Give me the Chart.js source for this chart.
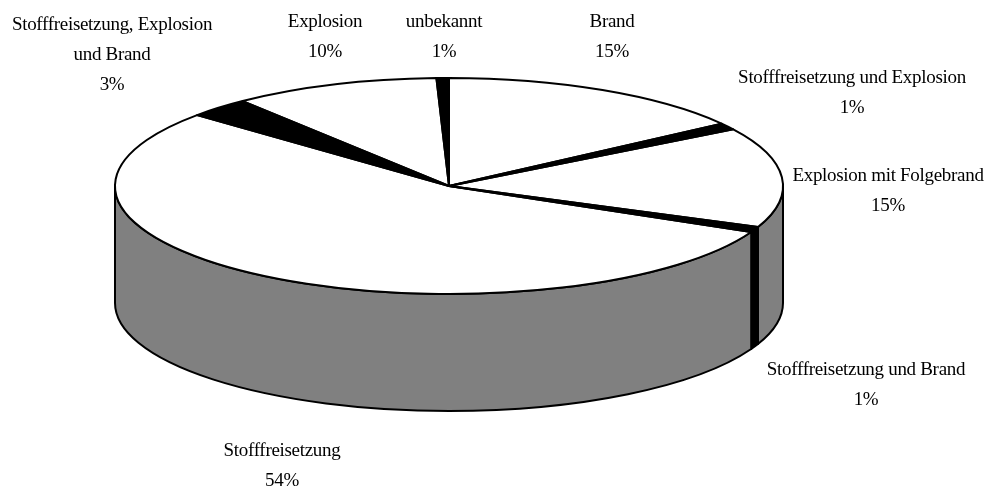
<!DOCTYPE html>
<html>
<head>
<meta charset="utf-8">
<script src="https://cdn.jsdelivr.net/npm/chart.js@4"></script>
<style>
  html, body { margin: 0; padding: 0; background: #fff; }
  #wrap { width: 992px; height: 492px; }
</style>
</head>
<body>
<div id="wrap"><canvas id="chart_pie"></canvas></div>
<script>
// data
const categories = [
  'Brand',
  'Stofffreisetzung und Explosion',
  'Explosion mit Folgebrand',
  'Stofffreisetzung und Brand',
  'Stofffreisetzung',
  ['Stofffreisetzung, Explosion', 'und Brand'],
  'Explosion',
  'unbekannt'
];
// shares (labels show them rounded)
const shares = [15.2, 1.0, 15.0, 0.8, 54.4, 3.0, 10.0, 0.6];

// styles / layout
const sliceColors = ['#ffffff','#000000','#ffffff','#000000','#ffffff','#000000','#ffffff','#000000'];
const wallColors  = ['#808080','#000000','#808080','#000000','#808080','#000000','#808080','#000000'];
const labelPos = [[612,22],[852,78],[888,176],[866,370],[282,451],[112,25],[325,22],[444,22]];
const CX = 449, CY = 186, RX = 334, RY = 108, DEPTH = 117;

function tilt(ctx, el) {
  // squash the library's circle into the tilted ellipse
  ctx.translate(CX, CY);
  ctx.scale(RX / el.outerRadius, RY / el.outerRadius);
  ctx.translate(-el.x, -el.y);
}

const pie3d = {
  id: 'pie3d',
  beforeDatasetsDraw(chart) {
    const ctx = chart.ctx;
    const arcs = chart.getDatasetMeta(0).data;
    // side wall, only the front half is visible
    arcs.forEach((el, i) => {
      const a1 = Math.max(el.startAngle, 0);
      const a2 = Math.min(el.endAngle, Math.PI);
      if (a2 <= a1) return;
      ctx.save();
      ctx.beginPath();
      ctx.ellipse(CX, CY, RX, RY, 0, a1, a2);
      ctx.ellipse(CX, CY + DEPTH, RX, RY, 0, a2, a1, true);
      ctx.closePath();
      ctx.fillStyle = wallColors[i];
      ctx.fill();
      ctx.lineWidth = 2;
      ctx.lineJoin = 'round';
      ctx.strokeStyle = '#000';
      ctx.stroke();
      ctx.restore();
    });
    ctx.save();
    tilt(ctx, arcs[0]);
  },
  afterDatasetsDraw(chart) {
    const ctx = chart.ctx;
    ctx.restore();
    const arcs = chart.getDatasetMeta(0).data;
    arcs.forEach((el) => {
      ctx.save();
      tilt(ctx, el);
      ctx.beginPath();
      ctx.moveTo(el.x, el.y);
      ctx.arc(el.x, el.y, el.outerRadius, el.startAngle, el.endAngle);
      ctx.closePath();
      ctx.restore();
      ctx.save();
      ctx.lineWidth = 2;
      ctx.lineJoin = 'round';
      ctx.strokeStyle = '#000';
      ctx.stroke();
      ctx.restore();
    });
  },
  afterDraw(chart) {
    const ctx = chart.ctx;
    const labels = chart.data.labels;
    const vals = chart.data.datasets[0].data;
    ctx.save();
    ctx.fillStyle = '#000';
    ctx.font = '19px "Liberation Serif", "DejaVu Serif", serif';
    ctx.letterSpacing = '-0.3px';
    ctx.textAlign = 'center';
    ctx.textBaseline = 'middle';
    labels.forEach((lab, i) => {
      const lines = (Array.isArray(lab) ? lab.slice() : [lab]);
      lines.push(Math.round(vals[i]) + '%');
      lines.forEach((t, k) => {
        ctx.fillText(t, labelPos[i][0], labelPos[i][1] + k * 30);
      });
    });
    ctx.restore();
  }
};

const chartPie = document.getElementById('chart_pie');
const pieChart = new Chart(chartPie, {
  type: 'pie',
  data: {
    labels: categories,
    datasets: [{
      data: shares,
      backgroundColor: sliceColors,
      borderWidth: 0
    }]
  },
  options: {
    responsive: true,
    maintainAspectRatio: false,
    animation: false,
    events: [],
    plugins: {
      legend: { display: false },
      tooltip: { enabled: false }
    }
  },
  plugins: [pie3d]
});
</script>
</body>
</html>
